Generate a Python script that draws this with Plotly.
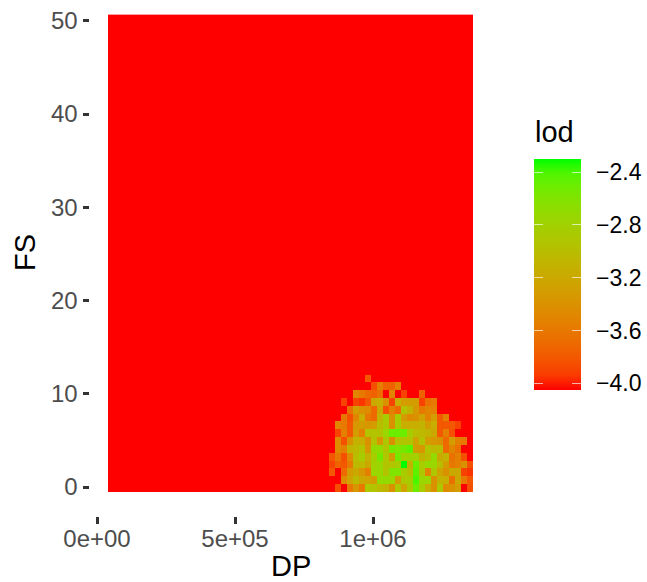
import plotly.graph_objects as go
import numpy as np

W, H = 647, 582
N_COLS = 61
N_ROWS = 61
BASE = -4.05
FIRST_COL = 37
DP_START = 50700
DP_STEP = 21667
FS_START = -0.117
FS_STEP = 0.839

n = None
# columns 37..60, rows from bottom (row 0) upward
row0 = [n, -3.85, n, -3.6, -3.35, -3.6, -2.9, -2.95, -3.05, -3.1, -3.4, -2.9, -3.25, -2.9, -2.5, -2.85, -3.15, -3.4, -2.9, -3.45, -3.4, -3.3, n, -3.85]
row1 = [n, n, -3.45, -3.25, -3.05, -3.2, -3.25, -3.3, -2.7, -2.7, -2.75, -3.3, -2.9, -2.85, -2.4, -2.75, -2.75, -3.4, -3.1, -3.15, -3.65, -3.2, -3.6, -3.8]
row2 = [-3.8, n, -3.7, -3.3, -3.2, -3.35, -3.55, -2.75, -2.75, -2.95, -2.6, -2.6, -2.85, -3.0, -2.45, -2.9, -3.5, -2.9, -3.25, -3.4, -3.2, -3.2, -3.9, -3.95]
row3 = [-3.9, -3.75, -3.8, -3.6, -3.05, -3.05, -3.2, -2.8, -2.75, -2.95, -2.95, -2.85, -2.3, -3.1, -2.5, -2.85, -2.7, -2.75, -3.0, -3.3, -3.6, -3.55, -3.4, -3.85]
row4 = [-3.8, -3.6, -3.85, -3.45, -3.0, -2.85, -3.1, -2.85, -2.55, -2.9, -3.3, -2.55, -2.8, -2.8, -2.8, -3.1, -3.0, -2.7, -3.2, -3.1, -3.65, -3.55, -3.85, n]
row5 = [n, -3.45, -3.55, -3.1, -3.05, -2.95, -3.35, -2.7, -2.7, -2.95, -2.55, -2.6, -2.55, -2.45, -3.3, -3.35, -2.95, -3.05, -3.0, -3.7, -3.5, -3.65, n, n]
row6 = [n, -3.45, -3.85, -3.4, -3.1, -3.15, -3.4, -2.95, -3.35, -2.9, -3.4, -2.95, -2.95, -2.95, -3.25, -2.95, -3.3, -3.35, -3.4, -3.7, -3.3, -3.55, -3.6, n]
row7 = [n, -3.9, -3.55, -3.8, -3.3, -3.55, -2.95, -2.95, -2.95, -2.75, -2.5, -2.5, -2.5, -2.85, -3.0, -3.05, -3.1, -3.2, -3.8, -3.55, -3.85, n, n, n]
row8 = [n, -3.5, -3.6, -3.8, -3.35, -3.3, -3.35, -3.3, -3.0, -2.9, -3.4, -2.85, -3.15, -3.15, -3.15, -3.1, -3.3, -3.15, -3.8, -3.8, -3.8, -3.9, n, n]
row9 = [n, n, -3.6, -3.85, -3.5, -3.15, -3.6, -3.7, -3.1, -2.85, -3.4, -2.85, -3.3, -3.45, -3.4, -3.25, -3.5, -3.3, -3.8, -3.55, n, n, n, n]
row10 = [n, n, n, -3.65, -3.3, -3.4, -3.45, -3.7, -3.2, -3.85, -3.55, -3.7, -2.95, -3.1, -3.35, -3.6, -3.5, -3.55, n, n, n, n, n, n]
row11 = [n, n, -3.9, n, -3.9, -3.95, -3.8, -3.2, -3.15, -3.4, -3.9, -3.15, -3.3, -3.3, -3.3, -3.9, -3.65, -3.6, n, n, n, n, n, n]
row12 = [n, n, n, n, -3.5, -3.6, -3.7, -3.75, -3.65, n, -3.5, n, -3.9, n, n, -3.75, n, n, n, n, n, n, n, n]
row13 = [n, n, n, n, n, n, n, -3.85, -3.55, -3.75, -3.75, -3.55, n, n, n, n, n, n, n, n, n, n, n, n]
row14 = [n, n, n, n, n, n, -3.8, n, n, n, n, n, n, n, n, n, n, n, n, n, n, n, n, n]
rows = [row0, row1, row2, row3, row4, row5, row6, row7, row8, row9, row10, row11, row12, row13, row14]

x_tickvals = [0, 500000, 1000000]
x_ticktext = ["0e+00", "5e+05", "1e+06"]
y_tickvals = [0, 10, 20, 30, 40, 50]
bar_tickvals = [-4.0, -3.6, -3.2, -2.8, -2.4]
ZMIN, ZMAX = -4.05, -2.30

z = [[BASE] * N_COLS for _ in range(N_ROWS)]
for j, row in enumerate(rows):
    for i, v in enumerate(row):
        if v is not None:
            z[j][FIRST_COL + i] = v


def _lab(rgb):
    c = np.array(rgb) / 255
    c = np.where(c > 0.04045, ((c + 0.055) / 1.055) ** 2.4, c / 12.92)
    m = np.array([[0.4124, 0.3576, 0.1805], [0.2126, 0.7152, 0.0722], [0.0193, 0.1192, 0.9505]])
    t = m @ c / np.array([0.95047, 1, 1.08883])
    f = np.where(t > 0.008856, np.cbrt(t), 7.787 * t + 16 / 116)
    return np.array([116 * f[1] - 16, 500 * (f[0] - f[1]), 200 * (f[1] - f[2])])


def _rgb(lab):
    fy = (lab[0] + 16) / 116
    f = np.array([fy + lab[1] / 500, fy, fy - lab[2] / 200])
    t = np.where(f ** 3 > 0.008856, f ** 3, (f - 16 / 116) / 7.787) * np.array([0.95047, 1, 1.08883])
    m = np.array([[3.2406, -1.5372, -0.4986], [-0.9689, 1.8758, 0.0415], [0.0557, -0.2040, 1.0570]])
    c = np.clip(m @ t, 0, 1)
    c = np.where(c > 0.0031308, 1.055 * c ** (1 / 2.4) - 0.055, 12.92 * c)
    return "rgb(%d,%d,%d)" % tuple(np.round(c * 255))


low, high = _lab((255, 0, 0)), _lab((0, 255, 0))
scale = [[s, _rgb(low + (high - low) * s)] for s in np.linspace(0, 1, 17).tolist()]

FONT = "Liberation Sans, Arial, sans-serif"
TICK_WHITE = "rgba(255,255,255,0.65)"
BAR_TOP = 159 + 22


def bar(left, thickness, labels):
    d = dict(
        thicknessmode="pixels", thickness=thickness, lenmode="pixels", len=231,
        xref="container", yref="container",
        x=left / W, xanchor="left", y=1 - BAR_TOP / H, yanchor="top", xpad=0, ypad=0,
        outlinewidth=0, tickmode="array", tickvals=bar_tickvals,
        showticklabels=labels, tickformat=".1f",
        tickfont=dict(family=FONT, size=23, color="#000000"),
    )
    if labels:
        d.update(ticks="outside", ticklen=11, tickwidth=1, tickcolor="rgba(255,255,255,0)")
    else:
        d.update(ticks="inside", ticklen=9, tickwidth=1.2, tickcolor=TICK_WHITE)
    return d


common = dict(z=z, x0=DP_START, dx=DP_STEP, y0=FS_START, dy=FS_STEP, zmin=ZMIN, zmax=ZMAX,
              colorscale=scale, hoverinfo="skip")
fig = go.Figure([
    go.Heatmap(colorbar=bar(534, 47, True), **common),
    go.Heatmap(colorbar=bar(534, 9, False), **common),
    go.Heatmap(colorbar=bar(572, 9, False), **common),
])

axis_common = dict(showgrid=False, zeroline=False, showline=False, ticks="outside",
                   ticklen=6.5, tickwidth=2.6, tickcolor="#333333",
                   tickfont=dict(family=FONT, size=24, color="#4D4D4D"))
fig.update_xaxes(range=[-25362, 1427500], tickmode="array", tickvals=x_tickvals,
                 ticktext=x_ticktext, ticklabelstandoff=-5, **axis_common)
fig.update_yaxes(range=[-3.11, 51.7], tickmode="array", tickvals=y_tickvals, **axis_common)


def label(text, px, py, size=29, angle=0):
    fig.add_annotation(text=text, xref="paper", yref="paper", showarrow=False, textangle=angle,
                       x=(px - 90) / (491 - 90), y=(516 - py) / (516 - 5),
                       xanchor="center", yanchor="middle",
                       font=dict(family=FONT, size=size, color="#000000"))


label("DP", 290.5, 566)
label("FS", 25, 253, angle=-90)
label("lod", 554, 132)

fig.update_layout(width=W, height=H, margin=dict(l=90, r=W - 491, t=5, b=H - 516),
                  paper_bgcolor="white", plot_bgcolor="white", font=dict(family=FONT))
fig.write_html("out.html", config=dict(displayModeBar=False),
               post_script="document.body.style.margin='0';window.dispatchEvent(new Event('resize'));")
